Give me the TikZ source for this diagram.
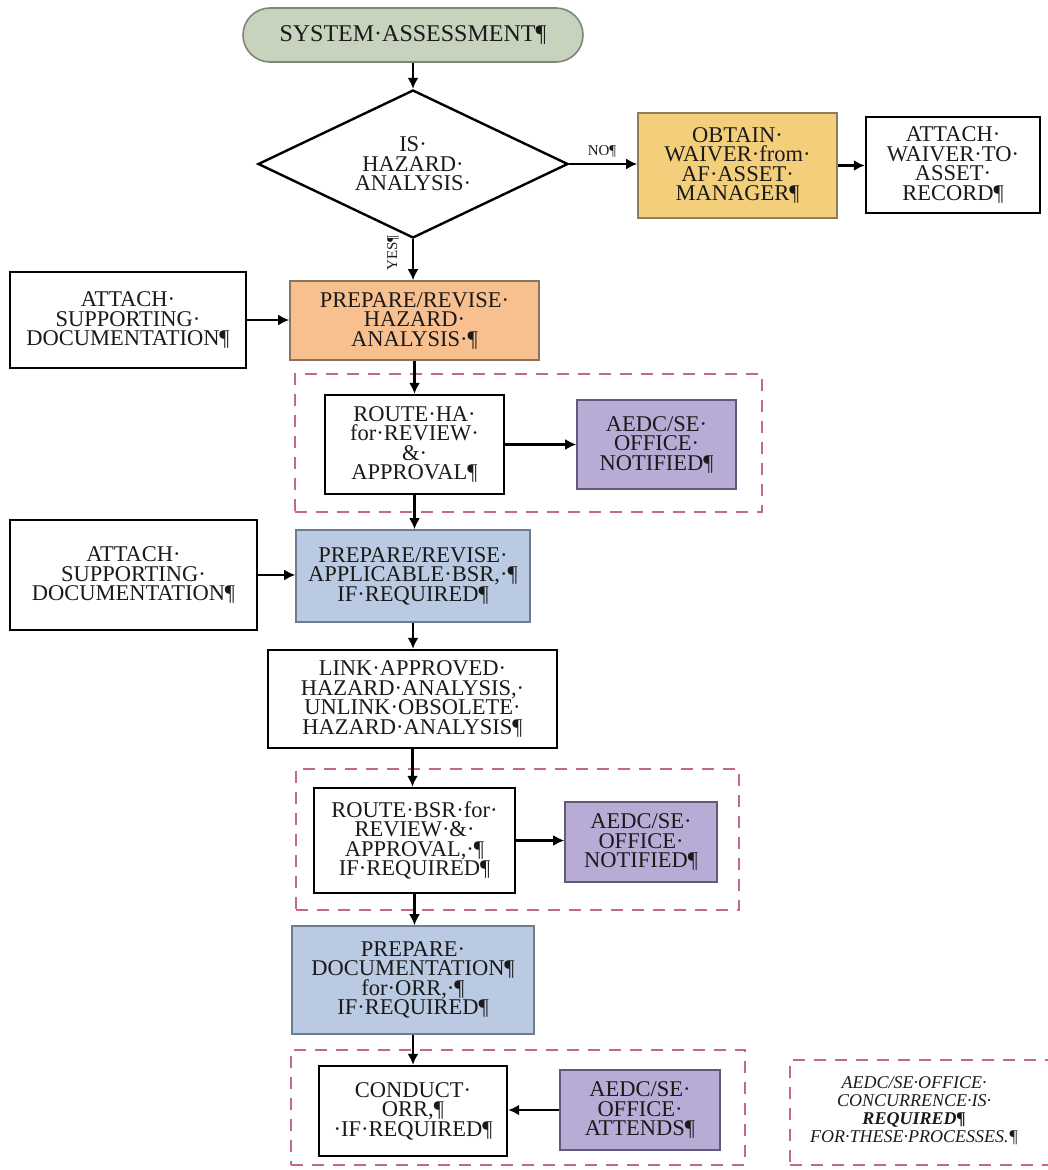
\documentclass[tikz,border=0pt]{standalone}
\usepackage{fontspec}
\setmainfont{Liberation Serif}
\usetikzlibrary{arrows.meta,shapes.geometric}
\definecolor{termfill}{HTML}{C8D3BD}
\definecolor{termdraw}{HTML}{7E867A}
\definecolor{waivfill}{HTML}{F4CF7B}
\definecolor{waivdraw}{HTML}{8E7E5A}
\definecolor{orfill}{HTML}{F8C08F}
\definecolor{ordraw}{HTML}{8C735E}
\definecolor{blfill}{HTML}{B9CAE2}
\definecolor{bldraw}{HTML}{6E7C90}
\definecolor{pufill}{HTML}{B8ACD6}
\definecolor{pudraw}{HTML}{5F5B78}
\definecolor{dashc}{HTML}{C2688A}
\definecolor{txt}{HTML}{1A1A1A}
\begin{document}
\begin{tikzpicture}[x=1pt,y=-1pt,
  every node/.style={inner sep=0pt,align=center,text=txt,font=\fontsize{22.5}{19.5}\selectfont},
  wbox/.style={draw=black,line width=2.4pt,fill=white,rectangle},
  cbox/.style={line width=1.6pt,rectangle},
  sz/.style 2 args={minimum width=#1pt,minimum height=#2pt},
  grp/.style={draw=dashc,line width=2.2pt,dash pattern=on 12pt off 9pt,rectangle},
  arr/.style={line width=2.4pt,-{Latex[length=11pt,width=11pt]}},
  lbl/.style={font=\fontsize{15}{16}\selectfont}
]
\useasboundingbox (0,0) rectangle (1048,1170);
% group frames
\node[grp,sz={467}{138}] (g1) at (528.5,443) {};
\node[grp,sz={443}{141}] (g2) at (517.5,839.5) {};
\node[grp,sz={454}{115}] (g3) at (518,1107.5) {};
\node[grp,sz={270}{105}] (g4) at (925,1112.5) {};
\node[font=\itshape\fontsize{18}{18}\selectfont] (leg) at (914,1111)
  {AEDC/SE·OFFICE·\\CONCURRENCE·IS·\\\textbf{REQUIRED¶}\\FOR·THESE·PROCESSES.¶};
% nodes
\node[cbox,draw=termdraw,fill=termfill,rounded corners=27pt,sz={340}{54},font=\fontsize{24}{20}\selectfont] (term) at (413,35) {SYSTEM·ASSESSMENT¶};
\node[diamond,draw=black,line width=2.4pt,fill=white,aspect=2.09,sz={310}{148}] (dia) at (413,164) {IS·\\HAZARD·\\ANALYSIS·};
\node[cbox,draw=waivdraw,fill=waivfill,sz={199}{105}] (waiv) at (737.5,165.5) {OBTAIN·\\WAIVER·from·\\AF·ASSET·\\MANAGER¶};
\node[wbox,sz={174}{96}] (attw) at (953,165) {ATTACH·\\WAIVER·TO·\\ASSET·\\RECORD¶};
\node[cbox,draw=ordraw,fill=orfill,sz={249}{79}] (pha) at (414.5,320.5) {PREPARE/REVISE·\\HAZARD·\\ANALYSIS·¶};
\node[wbox,sz={236}{96}] (att1) at (128,320) {ATTACH·\\SUPPORTING·\\DOCUMENTATION¶};
\node[wbox,sz={179}{99}] (rha) at (414.5,444.5) {ROUTE·HA·\\for·REVIEW·\\\&·\\APPROVAL¶};
\node[cbox,draw=pudraw,fill=pufill,sz={159}{89}] (aedc1) at (656.5,444.5) {AEDC/SE·\\OFFICE·\\NOTIFIED¶};
\node[cbox,draw=bldraw,fill=blfill,sz={234}{92}] (pbsr) at (413,576) {PREPARE/REVISE·\\APPLICABLE·BSR,·¶\\IF·REQUIRED¶};
\node[wbox,sz={247}{110}] (att2) at (133.5,575) {ATTACH·\\SUPPORTING·\\DOCUMENTATION¶};
\node[wbox,sz={289}{98}] (link) at (412.5,699) {LINK·APPROVED·\\HAZARD·ANALYSIS,·\\UNLINK·OBSOLETE·\\HAZARD·ANALYSIS¶};
\node[wbox,sz={201}{105}] (rbsr) at (414.5,840.5) {ROUTE·BSR·for·\\REVIEW·\&·\\APPROVAL,·¶\\IF·REQUIRED¶};
\node[cbox,draw=pudraw,fill=pufill,sz={152}{80}] (aedc2) at (641,842) {AEDC/SE·\\OFFICE·\\NOTIFIED¶};
\node[cbox,draw=bldraw,fill=blfill,sz={242}{108}] (pdoc) at (413,980) {PREPARE·\\DOCUMENTATION¶\\for·ORR,·¶\\IF·REQUIRED¶};
\node[wbox,sz={188}{90}] (cond) at (413,1111) {CONDUCT·\\ORR,¶\\·IF·REQUIRED¶};
\node[cbox,draw=pudraw,fill=pufill,sz={160}{80}] (aedc3) at (640,1110) {AEDC/SE·\\OFFICE·\\ATTENDS¶};
% connector labels
\node[lbl] (no) at (602,151) {NO¶};
\node[lbl,rotate=90] (yes) at (393,253) {YES¶};
% connectors
\draw[arr] (term.south) -- (term.south |- dia.north);
\draw[arr] (dia.east) -- (dia.east -| waiv.west);
\draw[arr] (waiv.east) -- (waiv.east -| attw.west);
\draw[arr] (dia.south) -- (dia.south |- pha.north);
\draw[arr] (att1.east) -- (att1.east -| pha.west);
\draw[arr] (pha.south -| rha.north) -- (rha.north);
\draw[arr] (rha.east) -- (rha.east -| aedc1.west);
\draw[arr] (rha.south) -- (rha.south |- pbsr.north);
\draw[arr] (att2.east) -- (att2.east -| pbsr.west);
\draw[arr] (pbsr.south) -- (pbsr.south |- link.north);
\draw[arr] (link.south) -- (link.south |- rbsr.north);
\draw[arr] (rbsr.east) -- (rbsr.east -| aedc2.west);
\draw[arr] (rbsr.south) -- (rbsr.south |- pdoc.north);
\draw[arr] (pdoc.south) -- (pdoc.south |- cond.north);
\draw[arr] (aedc3.west) -- (aedc3.west -| cond.east);
\end{tikzpicture}
\end{document}
